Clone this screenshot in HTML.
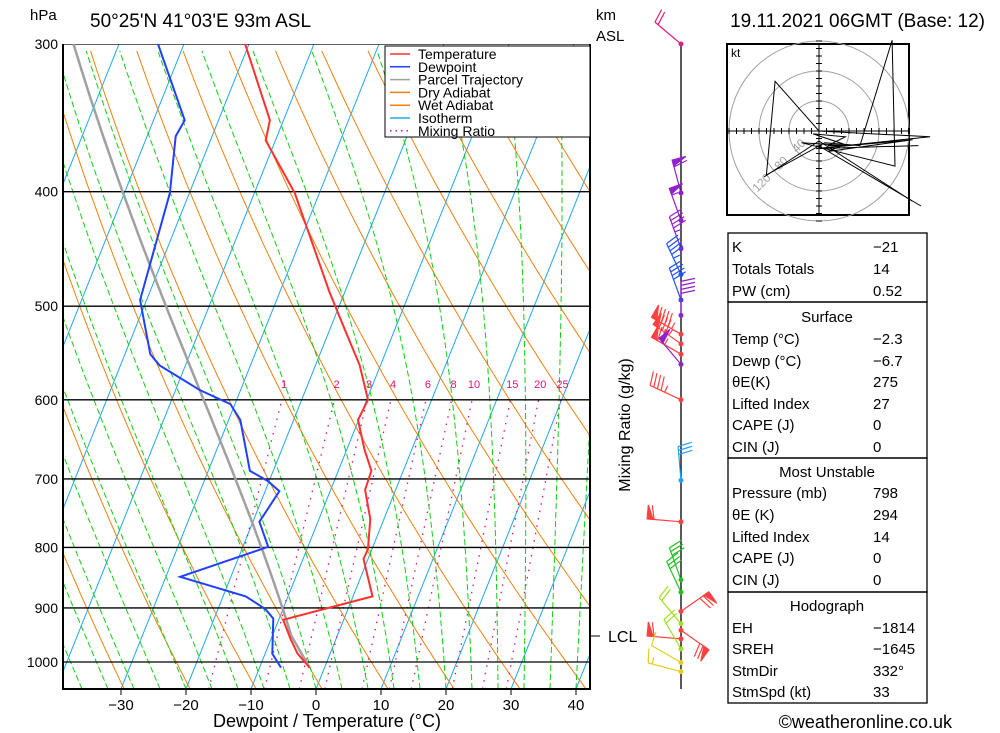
<!DOCTYPE html>
<html><head><meta charset="utf-8"><style>
body{margin:0;background:#fff;width:1000px;height:733px;overflow:hidden}
svg{display:block;font-family:"Liberation Sans",sans-serif}
</style></head><body>
<svg id="c" width="1000" height="733" viewBox="0 0 1000 733">
<defs><clipPath id="pc"><rect x="63" y="44" width="527" height="645"/></clipPath></defs>
<g id="grid" clip-path="url(#pc)"></g>
<g id="series" clip-path="url(#pc)"></g>
<g id="axes"></g>
<g id="wind"></g>
<g id="hodo"></g>
<g id="tables"></g>
</svg>
<script>
// ---- data ----
const pressLevels=[300,400,500,600,700,800,900,1000];
const tempTicks=[-30,-20,-10,0,10,20,30,40];
const tempP=[300,348,362,401,486,524,561,600,624,662,689,715,757,803,818,880,921,956,984,1011];
const tempT=[-50.6,-42.1,-41.5,-33.8,-22.4,-17.6,-13.2,-9.8,-10.1,-7.2,-4.9,-4.7,-2.1,-0.6,-0.7,3.0,-9.3,-7.0,-5.0,-2.3];
const dewP=[300,348,359,401,494,549,561,589,605,624,689,703,717,761,799,847,880,902,919,984,1011];
const dewT=[-64,-55.2,-55.6,-53.0,-51.0,-46.1,-44.0,-36.2,-30.7,-28.2,-23.6,-20.2,-17.8,-19.0,-16.1,-27.8,-16.5,-12.7,-10.9,-8.9,-6.7];
const mixVals=[1,2,3,4,6,8,10,15,20,25];
const barbP=[300,401,423,447,470,494,509,528,538,549,560,600,702,761,852,873,906,928,940,956,975,1001,1019];
const barbDir=[310,345,340,340,335,340,0,300,305,300,320,295,355,275,340,335,55,320,125,275,330,300,285];
const barbSpd=[20,60,55,45,45,40,40,95,85,75,50,45,30,60,30,30,70,20,70,60,20,10,15];
const barbCol=["#e0207a","#9020d0","#9020d0","#9020d0","#2050ff","#2050ff","#9020d0","#ff4040","#ff4040","#ff4040","#9020d0","#ff4040","#20a0ff","#ff4040","#20c020","#20c020","#ff4040","#a0e020","#ff4040","#ff4040","#a0e020","#e0d020","#e0d020"];
const hodoU=[0,-15,-18,2,14,25,26,-6,10,-2,9,3,8,3,32,-1,34,-1,38,0];
const hodoV=[0,17,-15,-4,-5,31,-12,-4,-5,-1,-2,-5,-5,-7,-3,-6,-5,-6,-2,0];

// ---- axes functions ----
const ns="http://www.w3.org/2000/svg";
const X0=316,SX=6.5,K=0.4,YB=689;
function yP(p){return 44+513.3*Math.log(p/300);}
function xT(t,p){return X0+SX*t+(YB-yP(p))*K;}
function el(tag,attrs,parent,txt){const e=document.createElementNS(ns,tag);for(const k in attrs)e.setAttribute(k,attrs[k]);if(txt!==undefined)e.textContent=txt;parent.appendChild(e);return e;}
const grid=document.getElementById('grid'),series=document.getElementById('series'),axes=document.getElementById('axes'),wind=document.getElementById('wind'),hodo=document.getElementById('hodo'),tables=document.getElementById('tables');
const PTOP=300,PBOT=1054;
for(let t=-110;t<=40;t+=10){
 const l=el('line',{x1:xT(t,PBOT),y1:yP(PBOT),x2:xT(t,PTOP),y2:yP(PTOP),stroke:'#20a8f0','stroke-width':1},grid);
 
 
}
function pathFrom(pts){return 'M'+pts.map(q=>q[0].toFixed(1)+','+q[1].toFixed(1)).join('L');}
for(let th=230;th<=480;th+=10){
 const pts=[];for(let p=PBOT;p>=PTOP;p-=10){const T=th*Math.pow(p/1000,0.286)-273.15;pts.push([xT(T,p),yP(p)]);}
 const e=el('path',{d:pathFrom(pts),fill:'none',stroke:'#f08010','stroke-width':1},grid);
 
 
}
function es(tc){return 6.112*Math.exp(17.67*tc/(tc+243.5));}
function moist(T0,p0,p1){const pts=[];let T=T0+273.15;const dp=p1<p0?-5:5;for(let p=p0;(dp<0?p>=p1:p<=p1);p+=dp){pts.push([xT(T-273.15,p),yP(p)]);const rs=0.622*es(T-273.15)/(p-es(T-273.15));const g=(287*T+2.5e6*rs)/(p*(1005+2.5e6*2.5e6*rs*0.622/(287*T*T)));T+=g*dp;}return pts;}
for(let t=-44;t<=44;t+=4){
 const e=el('path',{d:pathFrom(moist(t,PBOT,PTOP)),fill:'none',stroke:'#10d010','stroke-width':1,'stroke-dasharray':'6,3'},grid);
 
 
}
function tdw(w,p){const e=w*p/(622+w);const a=Math.log(e/6.112);return 243.5*a/(17.67-a);}
mixVals.forEach(w=>{
 const e=el('line',{x1:xT(tdw(w,PBOT),PBOT),y1:yP(PBOT),x2:xT(tdw(w,600),600),y2:yP(600),stroke:'#e0107a','stroke-width':1.3,'stroke-dasharray':'1.5,6'},grid);
 
 
 const t=el('text',{x:xT(tdw(w,590),590),y:yP(590)-3,'font-size':11,fill:'#e0107a','text-anchor':'middle'},axes,String(w));
 
 
});
pressLevels.forEach(p=>{
 const l=el('line',{x1:63,y1:yP(p),x2:590,y2:yP(p),stroke:'#000','stroke-width':1.3},grid);
 
 
 const t=el('text',{x:58,y:yP(p)+5,'font-size':14,'text-anchor':'end'},axes,String(p));
 
 
});
(function(){const sT=tempT[tempT.length-1],sP=tempP[tempP.length-1];const lclP=950;const th=(sT+273.15)*Math.pow(1000/sP,0.286);const Tl=th*Math.pow(lclP/1000,0.286)-273.15;
 const pts=[[xT(sT,sP),yP(sP)],[xT(Tl,lclP),yP(lclP)]].concat(moist(Tl,lclP,PTOP));
 const e=el('path',{d:pathFrom(pts),fill:'none',stroke:'#a0a0a0','stroke-width':2.5},series);
 
 })();
function prof(P,T,col,name){const pts=P.map((p,i)=>[xT(T[i],p),yP(p)]);const e=el('path',{d:pathFrom(pts),fill:'none',stroke:col,'stroke-width':2},series);
 
 }
prof(tempP,tempT,'#ff3030','temperature-line');
prof(dewP,dewT,'#2040ff','dewpoint-line');
const fr=el('path',{d:'M63,44V689H590V44',fill:'none',stroke:'#000','stroke-width':2},axes);


tempTicks.forEach(t=>{const x=X0+SX*t;
 const l=el('line',{x1:x,y1:689,x2:x,y2:695,stroke:'#000'},axes);
 
 
 const tx=el('text',{x:x,y:710,'font-size':15,'text-anchor':'middle'},axes,String(t).replace('-','\u2212'));
 
 });
const leg=[['Temperature','#ff3030',false],['Dewpoint','#2040ff',false],['Parcel Trajectory','#a0a0a0',false],['Dry Adiabat','#f08010',false],['Wet Adiabat','#f08010',false],['Isotherm','#20a8f0',false],['Mixing Ratio','#e0107a',true]];
const lr=el('rect',{x:385,y:46,width:205,height:91,fill:'#fff',stroke:'#000'},axes);


leg.forEach((g,i)=>{const y=54+i*12.8;
 const l=el('line',{x1:390,y1:y,x2:410,y2:y,stroke:g[1],'stroke-width':1.5,'stroke-dasharray':g[2]?'1.5,4':'none'},axes);
 
 
 const t=el('text',{x:418,y:y+5,'font-size':14},axes,g[0]);
 
 });
const st=el('line',{x1:681,y1:44,x2:681,y2:689,stroke:'#000','stroke-width':1.3},wind);


const lcl=el('line',{x1:590,y1:636,x2:600,y2:636,stroke:'#000'},wind);


barbP.forEach((p,i)=>{const y=yP(p),x=681,d=barbDir[i]*Math.PI/180,c=barbCol[i];
 const ux=Math.sin(d),uy=-Math.cos(d),px=-uy,py=ux;const L=34;
 const g=el('g',{stroke:c,fill:c,'stroke-width':1.2},wind);
 
 
 el('line',{x1:x,y1:y,x2:x+ux*L,y2:y+uy*L},g);
 let s=barbSpd[i],pos=L;
 while(s>=50){const ax=x+ux*pos,ay=y+uy*pos,bx=x+ux*(pos-6),by=y+uy*(pos-6);el('polygon',{points:`${ax},${ay} ${ax+px*14},${ay+py*14} ${bx},${by}`},g);pos-=7;s-=50;}
 while(s>=10){const ax=x+ux*pos,ay=y+uy*pos;el('line',{x1:ax,y1:ay,x2:ax+px*14+ux*3,y2:ay+py*14+uy*3},g);pos-=4;s-=10;}
 if(s>=5){const ax=x+ux*pos,ay=y+uy*pos;el('line',{x1:ax,y1:ay,x2:ax+px*7,y2:ay+py*7},g);}
 el('circle',{cx:x,cy:y,r:2.5,stroke:'none'},g);
});
const HX=819,HY=131,HS=0.75;
const hb=el('rect',{x:727,y:44,width:182,height:171,fill:'none',stroke:'#000','stroke-width':2},hodo);


[30,60,90].forEach(r=>{const c=el('circle',{cx:HX,cy:HY,r:r,fill:'none',stroke:'#a0a0a0'},hodo);
 
 });
el('line',{x1:727,y1:HY,x2:909,y2:HY,stroke:'#000'},hodo);
el('line',{x1:HX,y1:44,x2:HX,y2:215,stroke:'#000'},hodo);
for(let k=-90;k<=90;k+=7.5){el('line',{x1:HX+k,y1:HY-3,x2:HX+k,y2:HY+3,stroke:'#000'},hodo);el('line',{x1:HX-3,y1:HY+k,x2:HX+3,y2:HY+k,stroke:'#000'},hodo);}
[['40',25],['80',50],['120',78]].forEach(a=>{const t=el('text',{x:HX-a[1]*0.7,y:HY+a[1]*0.7,'font-size':12,fill:'#a0a0a0','text-anchor':'middle',transform:`rotate(-45 ${HX-a[1]*0.7} ${HY+a[1]*0.7})`},hodo,a[0]);
 
 });
el('text',{x:731,y:57,'font-size':12},hodo,'kt');
const hp=hodoU.map((u,i)=>[HX+u*3*HS*1.3,HY-hodoV[i]*3*HS*1.3]);
const hl=el('path',{d:pathFrom(hp),fill:'none',stroke:'#000','stroke-width':1},hodo);


el('line',{x1:HX,y1:HY+15,x2:921,y2:206,stroke:'#000'},hodo);
el('line',{x1:HX,y1:HY+10,x2:912,y2:201,stroke:'#000'},hodo);
el('line',{x1:HX,y1:HY+10,x2:764,y2:177,stroke:'#000'},hodo);
function T(x,y,s,txt,name,anchor,extra){const t=el('text',Object.assign({x:x,y:y,'font-size':s,'text-anchor':anchor||'start'},extra||{}),tables,txt);
 
 return t;}
T(30,20,15,'hPa','pressure-unit');
T(90,27,19,"50°25'N 41°03'E 93m ASL",'location-title');
T(596,20,15,'km','km-label');
T(596,41,15,'ASL','asl-label');
T(985,27,19,'19.11.2021 06GMT (Base: 12)','date-title','end');
T(327,727,18,'Dewpoint / Temperature (°C)','x-axis-title','middle');
T(630,425,16,'Mixing Ratio (g/kg)','mixing-ratio-title','middle',{transform:'rotate(-90 630 425)'});
T(608,642,16,'LCL','lcl-label');
T(952,728,18,'©weatheronline.co.uk','copyright','end');
const boxes=[[233,302],[302,458],[458,592],[592,703]];
boxes.forEach(b=>{const r=el('rect',{x:728,y:b[0],width:199,height:b[1]-b[0],fill:'none',stroke:'#000','stroke-width':1.3},tables);
 
 });
const rows=[[252,'K','\u221221'],[274,'Totals Totals','14'],[296,'PW (cm)','0.52'],[322,'#Surface'],[344,'Temp (°C)','\u22122.3'],[366,'Dewp (°C)','\u22126.7'],[387,'θE(K)','275'],[409,'Lifted Index','27'],[430,'CAPE (J)','0'],[452,'CIN (J)','0'],[477,'#Most Unstable'],[498,'Pressure (mb)','798'],[520,'θE (K)','294'],[542,'Lifted Index','14'],[563,'CAPE (J)','0'],[585,'CIN (J)','0'],[611,'#Hodograph'],[633,'EH','\u22121814'],[654,'SREH','\u22121645'],[676,'StmDir','332°'],[697,'StmSpd (kt)','33']];
rows.forEach(r=>{if(r[1][0]==='#'){T(827,r[0],15,r[1].slice(1),'stats-header','middle');}else{T(732,r[0],15,r[1],'stats-label');T(873,r[0],15,r[2],'stats-value');}});
</script>
</body></html>
